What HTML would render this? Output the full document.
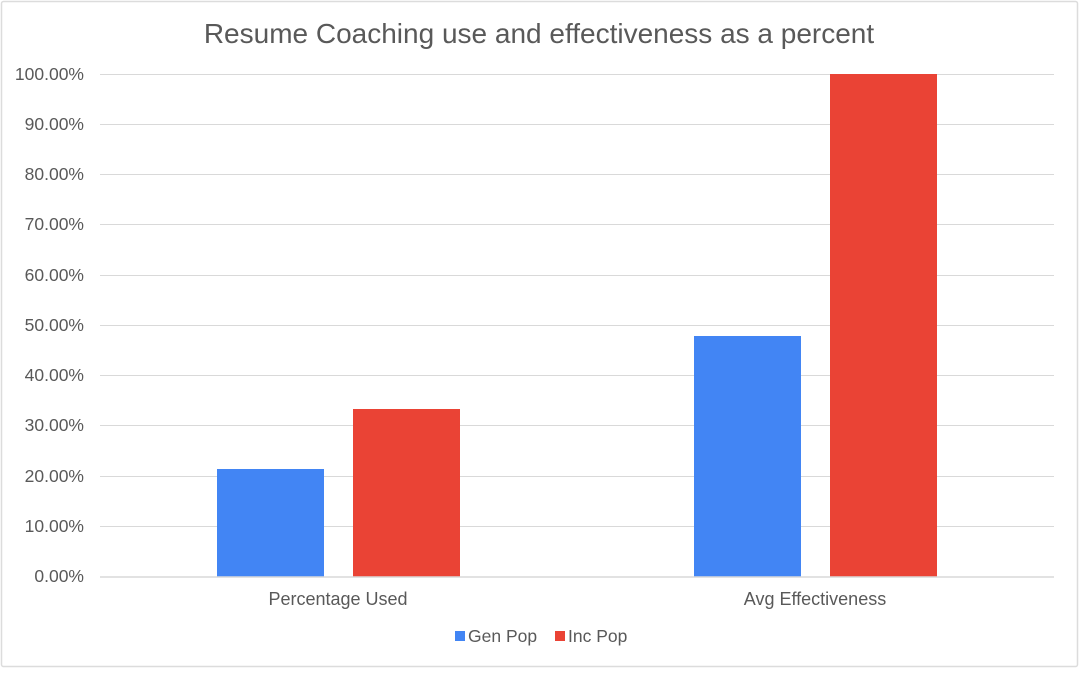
<!DOCTYPE html>
<html><head><meta charset="utf-8"><style>
html,body{margin:0;padding:0;background:#fff;}
body{width:1080px;height:669px;overflow:hidden;}
</style></head><body>
<svg width="1080" height="669" viewBox="0 0 1080 669" xmlns="http://www.w3.org/2000/svg" font-family="Liberation Sans, Arial, sans-serif">
<rect x="1.5" y="1.5" width="1076" height="665" fill="#fff" stroke="#dcdcdc" stroke-width="1.5" rx="2"/>
<text x="539" y="43" text-anchor="middle" font-size="28" fill="#595959">Resume Coaching use and effectiveness as a percent</text>
<g stroke="#d9d9d9" stroke-width="1">
<line x1="100" x2="1054" y1="74.5" y2="74.5"/>
<line x1="100" x2="1054" y1="124.5" y2="124.5"/>
<line x1="100" x2="1054" y1="174.5" y2="174.5"/>
<line x1="100" x2="1054" y1="224.5" y2="224.5"/>
<line x1="100" x2="1054" y1="275.5" y2="275.5"/>
<line x1="100" x2="1054" y1="325.5" y2="325.5"/>
<line x1="100" x2="1054" y1="375.5" y2="375.5"/>
<line x1="100" x2="1054" y1="425.5" y2="425.5"/>
<line x1="100" x2="1054" y1="476.5" y2="476.5"/>
<line x1="100" x2="1054" y1="526.5" y2="526.5"/>
</g>
<g font-size="17.5" fill="#595959" text-anchor="end">
<text x="84" y="80">100.00%</text>
<text x="84" y="130">90.00%</text>
<text x="84" y="180">80.00%</text>
<text x="84" y="230">70.00%</text>
<text x="84" y="281">60.00%</text>
<text x="84" y="331">50.00%</text>
<text x="84" y="381">40.00%</text>
<text x="84" y="431">30.00%</text>
<text x="84" y="482">20.00%</text>
<text x="84" y="532">10.00%</text>
<text x="84" y="582">0.00%</text>
</g>
<rect x="217" y="469" width="107" height="108" fill="#4285f4"/>
<rect x="353" y="409" width="107" height="168" fill="#ea4335"/>
<rect x="694" y="336" width="107" height="241" fill="#4285f4"/>
<rect x="830" y="74" width="107" height="503" fill="#ea4335"/>
<line x1="100" x2="1054" y1="577" y2="577" stroke="#d9d9d9" stroke-width="1.5"/>
<g font-size="18" fill="#595959" text-anchor="middle">
<text x="338" y="605">Percentage Used</text>
<text x="815" y="605">Avg Effectiveness</text>
</g>
<rect x="455" y="631" width="10" height="10" fill="#4285f4"/>
<text x="468" y="642" font-size="17.5" fill="#595959">Gen Pop</text>
<rect x="555" y="631" width="10" height="10" fill="#ea4335"/>
<text x="568" y="642" font-size="17.5" fill="#595959">Inc Pop</text>
</svg>
</body></html>
